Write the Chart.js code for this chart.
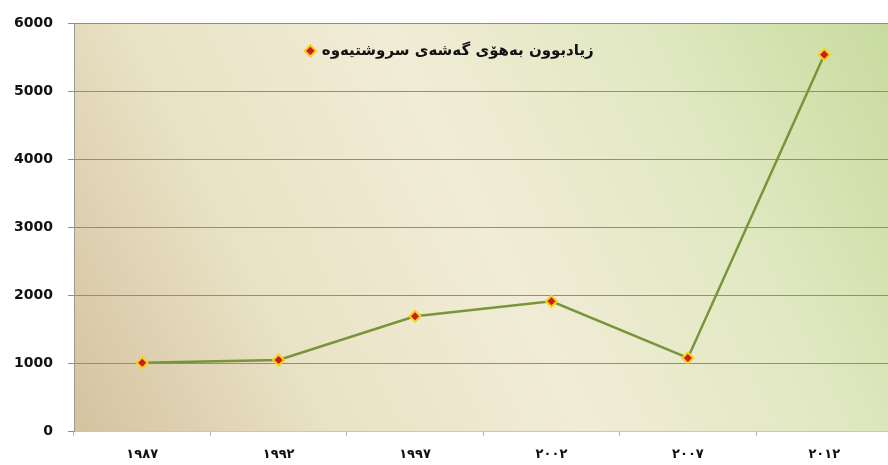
<!DOCTYPE html>
<html>
<head>
<meta charset="utf-8">
<script src="https://cdn.jsdelivr.net/npm/chart.js@4/dist/chart.umd.min.js"></script>
<style>
    html, body { margin: 0; padding: 0; background: #fff; overflow: hidden; }
    #wrap { width: 900px; height: 465px; }
</style>
</head>
<body>
<div id="wrap"><canvas id="chart"></canvas></div>
<script>
    const years = ["١٩٨٧", "١٩٩٢", "١٩٩٧", "٢٠٠٢", "٢٠٠٧", "٢٠١٢"];
    const growth = [1005, 1045, 1690, 1910, 1075, 5540];
    const seriesLabel = "زیادبوون بەهۆی گەشەی سروشتیەوە";
    const yTicks = [0, 1000, 2000, 3000, 4000, 5000, 6000];

    // paints the soft diagonal gradient behind the plot
    const plotBackground = {
        id: "plotBackground",
        beforeDraw(chart) {
            const { ctx, chartArea: a } = chart;
            const g = ctx.createLinearGradient(a.left, a.bottom, a.right, a.top);
            g.addColorStop(0, "#d4c29f");
            g.addColorStop(0.25, "#e9e2c5");
            g.addColorStop(0.5, "#f1ecd6");
            g.addColorStop(0.75, "#e1e8c2");
            g.addColorStop(1, "#c7db9e");
            ctx.save();
            ctx.fillStyle = g;
            ctx.fillRect(a.left, a.top, a.right - a.left, a.bottom - a.top);
            ctx.restore();
        }
    };

    // legend sits inside the plot, so it takes no layout height and is not clipped
    const legendInside = {
        id: "legendInside",
        beforeUpdate(chart) {
            const lg = chart.legend;
            if (lg && !lg._inside) {
                const fit = lg.fit;
                lg.fit = function () {
                    fit.call(this);
                    this.height = 0;
                };
                lg.draw = function () {
                    if (this.options.display) this._draw();
                };
                lg._inside = true;
            }
        }
    };

    const ctx = document.getElementById("chart").getContext("2d");
    new Chart(ctx, {
        type: "line",
        data: {
            labels: years,
            datasets: [{
                label: seriesLabel,
                data: growth,
                borderColor: "#78953a",
                borderWidth: 2.5,
                tension: 0,
                pointStyle: "rectRot",
                pointRadius: 5.5,
                pointBackgroundColor: "#c81e1e",
                pointBorderColor: "#f6d11c",
                pointBorderWidth: 2
            }]
        },
        options: {
            responsive: true,
            maintainAspectRatio: false,
            animation: false,
            layout: { padding: { top: 18, left: 0, right: 0, bottom: 0 } },
            scales: {
                x: {
                    offset: true,
                    afterFit(scale) { scale.height = 34; },
                    grid: {
                        offset: true,
                        drawOnChartArea: false,
                        tickLength: 5,
                        color: "#b8b8b0"
                    },
                    border: { color: "#c8c8c0", width: 1 },
                    ticks: {
                        color: "#111",
                        padding: 11,
                        maxRotation: 0,
                        font: { family: "DejaVu Sans", size: 13, weight: "bold" }
                    }
                },
                y: {
                    min: 0,
                    max: 6000,
                    afterFit(scale) { scale.width = 74; },
                    afterBuildTicks(scale) {
                        scale.ticks = yTicks.map(v => ({ value: v }));
                    },
                    grid: {
                        color: "#8e8e84",
                        lineWidth: 1,
                        tickLength: 6
                    },
                    border: { color: "#9a9a90", width: 1 },
                    ticks: {
                        color: "#111",
                        padding: 15,
                        callback: v => String(v),
                        font: { family: "DejaVu Sans", size: 14, weight: "bold" }
                    }
                }
            },
            plugins: {
                legend: {
                    position: "top",
                    align: "center",
                    labels: {
                        usePointStyle: true,
                        pointStyle: "rectRot",
                        boxWidth: 8,
                        boxHeight: 8,
                        padding: 20,
                        color: "#111",
                        font: { family: "DejaVu Sans", size: 15, weight: "bold" }
                    }
                },
                tooltip: { enabled: false }
            }
        },
        plugins: [plotBackground, legendInside]
    });
</script>
</body>
</html>
